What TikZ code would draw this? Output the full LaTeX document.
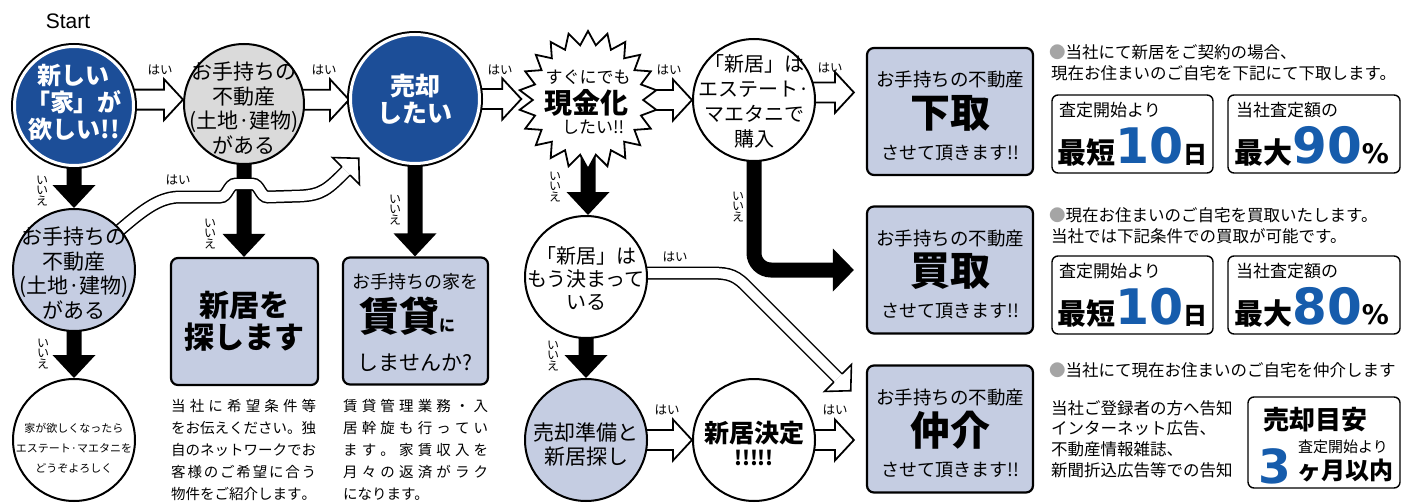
\documentclass[tikz,border=0pt]{standalone}
\usepackage{fontspec}
\setmainfont{Noto Sans CJK JP}
\newfontfamily\latinfont{Liberation Sans}
\newfontfamily\numfont{DejaVu Sans}
\usetikzlibrary{shapes.geometric,calc,backgrounds}
\definecolor{darkblue}{RGB}{28,78,152}
\definecolor{paleblue}{RGB}{197,205,226}
\definecolor{palegray}{RGB}{218,218,218}
\definecolor{numblue}{RGB}{22,92,172}
\definecolor{dotgray}{RGB}{165,165,165}
\makeatletter
\newcommand\spreadline[2]{\makebox[#1][s]{\spr@ad#2\@nil}}
\def\spr@ad#1{#1\@ifnextchar\@nil{\@gobble}{\hfil\spr@ad}}
\makeatother
\newcommand\noarrow[2]{%
\fill let \p1=(#1), \p2=(#2) in (\x1-7.5pt,\y1+4pt) -- (\x1-7.5pt,\y2+23pt) -- (\x1-21.5pt,\y2+23pt) -- (\x1,\y2) -- (\x1+21.5pt,\y2+23pt) -- (\x1+7.5pt,\y2+23pt) -- (\x1+7.5pt,\y1+4pt) -- cycle;}
\newcommand\yesarrow[2]{%
\filldraw[yesline] let \p1=(#1), \p2=(#2) in (\x1-6pt,\y1+10pt) -- (\x2-19pt,\y1+10pt) -- (\x2-19pt,\y1+20.5pt) -- (\x2,\y1) -- (\x2-19pt,\y1-20.5pt) -- (\x2-19pt,\y1-10pt) -- (\x1-6pt,\y1-10pt);}
\newcommand\bandhead[2]{%
\begin{scope}[shift={(#1)},rotate=#2]
\fill[white] (0,19) -- (18,0) -- (0,-19) -- cycle;
\draw[line width=1.6pt,line join=miter] (0,5.8) -- (0,19) -- (18,0) -- (0,-19) -- (0,-5.8);
\end{scope}}

\begin{document}
\begin{tikzpicture}[x=1pt,y=1pt,
bluecirc/.style={circle,minimum size=119pt,fill=darkblue,draw=white,line width=3pt,preaction={draw=black,line width=7pt}},
plaincirc/.style={circle,minimum size=122pt,draw=black,line width=2pt,fill=white},
gaincard/.style={rectangle,rounded corners=7pt,draw=black,line width=2.2pt,fill=paleblue,minimum width=166pt,minimum height=127pt},
infobox/.style={rectangle,rounded corners=6pt,draw=black,line width=1.4pt,fill=white},
yesmark/.style={font=\fontsize{12.5}{12.5}\selectfont},
nomark/.style={font=\fontsize{12}{10.5}\selectfont,align=center},
yesline/.style={fill=white,draw=black,line width=1.8pt,line join=miter},
band/.style={draw=black,double=white,double distance=10pt,line width=1.5pt}]
\tikzstyle{every node}+=[inner sep=0pt]
\useasboundingbox (0,0) rectangle (1411,-503);
\node[font=\latinfont\fontsize{21}{21}\selectfont] (start) at (68,-21) {Start};
\node[bluecirc] (c1) at (74,-106) {};
\node[font=\bfseries\fontsize{24}{27}\selectfont,text=white,align=center] (c1t) at (74,-103) {新しい\\「家」が\\欲しい!!};
\node[plaincirc,fill=palegray,minimum size=120pt] (c2) at (244,-104) {};
\node[font=\fontsize{21}{24.5}\selectfont,align=center] (c2t) at (244,-108) {お手持ちの\\不動産\\(土地·建物)\\がある};
\node[bluecirc,minimum size=129pt] (c3) at (415,-99) {};
\node[font=\bfseries\fontsize{25}{27}\selectfont,text=white,align=center] (c3t) at (415,-99) {売却\\したい};
\node[star,star points=22,star point ratio=1.25,minimum size=138pt,draw=black,line width=1.8pt,fill=white] (cash) at (588,-100) {};
\node[font=\fontsize{17}{17}\selectfont] (cash1) at (588,-77) {すぐにでも};
\node[font=\bfseries\fontsize{28}{28}\selectfont] (cash2) at (586,-103) {現金化};
\node[font=\fontsize{17}{17}\selectfont] (cash3) at (593,-127) {したい!!};
\node[plaincirc] (c5) at (754,-100) {};
\node[font=\fontsize{20}{25}\selectfont,align=center] (c5t) at (754,-101) {「新居」は\\エステート·\\マエタニで\\購入};
\node[plaincirc,fill=paleblue] (c9) at (74,-270) {};
\node[font=\fontsize{21}{24.5}\selectfont,align=center] (c9t) at (74,-273) {お手持ちの\\不動産\\(土地·建物)\\がある};
\node[plaincirc] (c10) at (74,-440) {};
\node[font=\fontsize{11}{20}\selectfont,align=center] (c10t) at (74,-448) {家が欲しくなったら\\エステート·マエタニを\\どうぞよろしく};
\node[plaincirc] (c6) at (586,-277) {};
\node[font=\fontsize{20}{23}\selectfont,align=center] (c6t) at (586,-278) {「新居」は\\もう決まって\\いる};
\node[plaincirc,fill=paleblue] (c7) at (586,-440) {};
\node[font=\fontsize{21}{24}\selectfont,align=center] (c7t) at (586,-445) {売却準備と\\新居探し};
\node[plaincirc] (c8) at (754,-440) {};
\node[font=\bfseries\fontsize{25}{25}\selectfont] (c8a) at (754,-433) {新居決定};
\node[font=\bfseries\fontsize{20}{20}\selectfont] (c8b) at (754,-458) {!!!!!};
\node[gaincard,minimum width=147pt] (b4) at (244.5,-321.5) {};
\node[font=\bfseries\fontsize{30}{32}\selectfont,align=center] (b4t) at (244.5,-321) {新居を\\探します};
\node[gaincard,minimum width=145pt] (b5) at (415.5,-321) {};
\node[font=\fontsize{18}{18}\selectfont] (b5a) at (415,-282) {お手持ちの家を};
\node (b5b) at (407,-316) {{\bfseries\fontsize{40}{40}\selectfont 賃貸}{\bfseries\fontsize{16}{16}\selectfont に}};
\node[font=\fontsize{21}{21}\selectfont] (b5c) at (415,-363) {しませんか?};
\node[anchor=north west,align=left,font=\fontsize{14.5}{22}\selectfont] (d1) at (171,-399) {\spreadline{145pt}{当社に希望条件等}\\\spreadline{145pt}{をお伝えください。独}\\\spreadline{145pt}{自のネットワークでお}\\\spreadline{145pt}{客様のご希望に合う}\\\spreadline{145pt}{物件をご紹介します。}};
\node[anchor=north west,align=left,font=\fontsize{14.5}{22}\selectfont] (d2) at (343,-399) {\spreadline{145pt}{賃貸管理業務・入}\\\spreadline{145pt}{居幹旋も行ってい}\\\spreadline{145pt}{ます。家賃収入を}\\\spreadline{145pt}{月々の返済がラク}\\になります。};
\node[gaincard] (b1) at (950,-111.5) {};
\node[font=\fontsize{18.5}{18.5}\selectfont] (b1a) at ([yshift=31.5pt]b1.center) {お手持ちの不動産};
\node[font=\bfseries\fontsize{40}{40}\selectfont] (b1b) at ([yshift=-1.5pt]b1.center) {下取};
\node[font=\fontsize{18}{18}\selectfont] (b1c) at ([yshift=-41.5pt]b1.center) {させて頂きます!!};
\node[gaincard] (b2) at (950,-270) {};
\node[font=\fontsize{18.5}{18.5}\selectfont] (b2a) at ([yshift=31.5pt]b2.center) {お手持ちの不動産};
\node[font=\bfseries\fontsize{40}{40}\selectfont] (b2b) at ([yshift=-1.5pt]b2.center) {買取};
\node[font=\fontsize{18}{18}\selectfont] (b2c) at ([yshift=-41.5pt]b2.center) {させて頂きます!!};
\node[gaincard] (b3) at (950,-429) {};
\node[font=\fontsize{18.5}{18.5}\selectfont] (b3a) at ([yshift=31.5pt]b3.center) {お手持ちの不動産};
\node[font=\bfseries\fontsize{40}{40}\selectfont] (b3b) at ([yshift=-1.5pt]b3.center) {仲介};
\node[font=\fontsize{18}{18}\selectfont] (b3c) at ([yshift=-41.5pt]b3.center) {させて頂きます!!};
\node[anchor=west,font=\fontsize{16.5}{16.5}\selectfont] (n1) at (1049,-52) {{\color{dotgray}●}当社にて新居をご契約の場合、};
\node[anchor=west,font=\fontsize{16.5}{16.5}\selectfont] (n2) at (1051,-73) {現在お住まいのご自宅を下記にて下取します。};
\node[infobox,minimum width=161pt,minimum height=78pt] (k1) at (1132.5,-134) {};
\node[anchor=west,font=\fontsize{17}{17}\selectfont] (k1a) at (1059,-110) {査定開始より};
\node[anchor=base west] (k1b) at (1057,-163) {{\bfseries\fontsize{29}{29}\selectfont 最短}{\numfont\bfseries\fontsize{49}{49}\selectfont\color{numblue}10}{\bfseries\fontsize{24}{24}\selectfont 日}};
\node[infobox,minimum width=172pt,minimum height=78pt] (k2) at (1314,-134) {};
\node[anchor=west,font=\fontsize{17}{17}\selectfont] (k2a) at (1236,-110) {当社査定額の};
\node[anchor=base west] (k2b) at (1234,-163) {{\bfseries\fontsize{29}{29}\selectfont 最大}{\numfont\bfseries\fontsize{50}{50}\selectfont\color{numblue}90}{\numfont\bfseries\fontsize{27}{27}\selectfont\%}};
\node[anchor=west,font=\fontsize{16.5}{16.5}\selectfont] (n3) at (1049,-215) {{\color{dotgray}●}現在お住まいのご自宅を買取いたします。};
\node[anchor=west,font=\fontsize{16.5}{16.5}\selectfont] (n4) at (1051,-236) {当社では下記条件での買取が可能です。};
\node[infobox,minimum width=161pt,minimum height=78pt] (k3) at (1132.5,-295) {};
\node[anchor=west,font=\fontsize{17}{17}\selectfont] (k3a) at (1059,-271) {査定開始より};
\node[anchor=base west] (k3b) at (1057,-324) {{\bfseries\fontsize{29}{29}\selectfont 最短}{\numfont\bfseries\fontsize{49}{49}\selectfont\color{numblue}10}{\bfseries\fontsize{24}{24}\selectfont 日}};
\node[infobox,minimum width=172pt,minimum height=78pt] (k4) at (1314,-295) {};
\node[anchor=west,font=\fontsize{17}{17}\selectfont] (k4a) at (1236,-271) {当社査定額の};
\node[anchor=base west] (k4b) at (1234,-324) {{\bfseries\fontsize{29}{29}\selectfont 最大}{\numfont\bfseries\fontsize{50}{50}\selectfont\color{numblue}80}{\numfont\bfseries\fontsize{27}{27}\selectfont\%}};
\node[anchor=west,font=\fontsize{16.5}{16.5}\selectfont] (n5) at (1049,-370) {{\color{dotgray}●}当社にて現在お住まいのご自宅を仲介します};
\node[anchor=north west,align=left,font=\fontsize{16.5}{20.7}\selectfont] (n6) at (1051,-400) {当社ご登録者の方へ告知\\インターネット広告、\\不動産情報雑誌、\\新聞折込広告等での告知};
\node[infobox,minimum width=152pt,minimum height=91pt] (k5) at (1324,-442.5) {};
\node[font=\bfseries\fontsize{26}{26}\selectfont] (k5a) at (1315,-420) {売却目安};
\node[anchor=base west,font=\numfont\bfseries\fontsize{47}{47}\selectfont,text=numblue] (k5b) at (1258,-483) {3};
\node[anchor=west,font=\fontsize{15}{15}\selectfont] (k5c) at (1298,-447) {査定開始より};
\node[anchor=west,font=\bfseries\fontsize{24}{24}\selectfont] (k5d) at (1297,-471) {ヶ月以内};
\node[yesmark] (y1) at (160,-70) {はい};
\node[yesmark] (y2) at (324,-70) {はい};
\node[yesmark] (y3) at (500,-70) {はい};
\node[yesmark] (y4) at (669,-70) {はい};
\node[yesmark] (y5) at (830,-68) {はい};
\node[yesmark] (y6) at (178,-180) {はい};
\node[yesmark] (y7) at (675,-257) {はい};
\node[yesmark] (y8) at (667,-410) {はい};
\node[yesmark] (y9) at (835,-410) {はい};
\node[nomark] (m1) at (42,-191) {い\\い\\え};
\node[nomark] (m2) at (43,-354) {い\\い\\え};
\node[nomark] (m3) at (210,-234) {い\\い\\え};
\node[nomark] (m4) at (395,-210) {い\\い\\え};
\node[nomark] (m5) at (555,-187) {い\\い\\え};
\node[nomark] (m6) at (553,-356) {い\\い\\え};
\node[nomark] (m7) at (738,-207) {い\\い\\え};
\begin{scope}[on background layer]
\noarrow{c1.south}{c9.north}
\noarrow{c9.south}{c10.north}
\noarrow{c2.south}{b4.north}
\noarrow{c3.south}{b5.north}
\noarrow{cash.center}{c6.north}
\noarrow{c6.south}{c7.north}
\coordinate (buyend) at ([xshift=-33pt]b2.west);
\draw[line width=15pt,rounded corners=17pt] (c5.center) |- (buyend);
\fill (buyend) ++(0,21.5) -- ++(21,-21.5) -- ++(-21,-21.5) -- cycle;
\coordinate (selltip) at (346,-171);
\draw[band] (c9.center) .. controls +(40:70) and (150,-197) .. (180,-197) -- (220,-197) .. controls (228,-197) and (228,-184) .. (236,-184) -- (252,-184) .. controls (260,-184) and (260,-197) .. (268,-197) -- (300,-196) .. controls (322,-195) and (328,-189) .. (selltip);
\bandhead{selltip}{45}
\coordinate (brokertip) at (838,-378);
\draw[band] ([yshift=4pt]c6.center) -- (705,-273) .. controls (725,-273) and (733,-273) .. (745,-285) -- (brokertip);
\bandhead{brokertip}{-45}
\yesarrow{c1.6}{c2.west}
\yesarrow{c2.4}{c3.west}
\yesarrow{c3.east}{[xshift=-10pt]cash.west}
\yesarrow{cash.east}{c5.west}
\yesarrow{c5.7}{[xshift=-12pt]b1.west}
\yesarrow{c7.east}{c8.west}
\yesarrow{c8.east}{[xshift=-12pt]b3.west}
\end{scope}
\end{tikzpicture}
\end{document}
